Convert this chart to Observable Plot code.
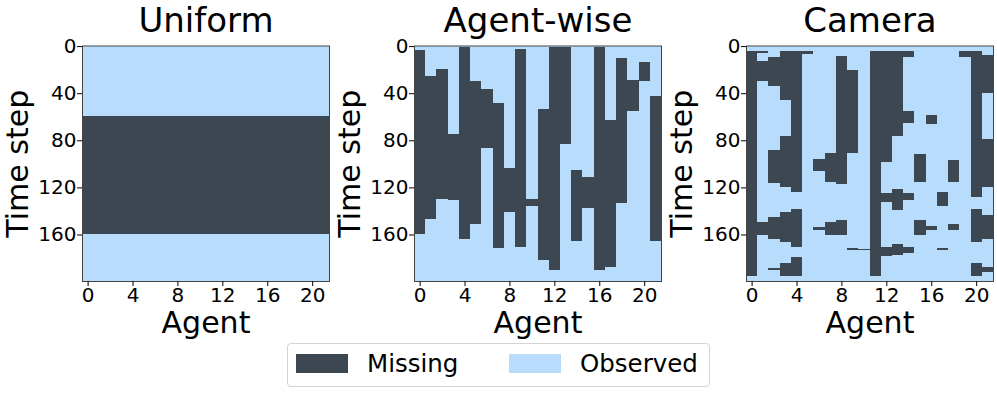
<!DOCTYPE html>
<html>
<head>
<meta charset="utf-8">
<script src="https://cdn.jsdelivr.net/npm/d3@7"></script>
<script src="https://cdn.jsdelivr.net/npm/@observablehq/plot@0.6"></script>
<style>
  html, body { margin: 0; padding: 0; background: #fff; }
  #root { position: relative; width: 997px; height: 393px; overflow: hidden; font-family: "DejaVu Sans", sans-serif; }
  .panel { position: absolute; top: 0; }
  #legend { position: absolute; left: 287px; top: 343px; width: 421px; height: 42px; border: 1px solid #d4d4d4; border-radius: 4px; background: #fff; }
  .sw { position: absolute; width: 52px; height: 19px; top: 10px; }
  .lt { position: absolute; font-size: 24.5px; line-height: 1; top: 8px; white-space: nowrap; color: #000; }
</style>
</head>
<body>
<div id="root"></div>
<script>
// ---- data ----
const agents = [0,1,2,3,4,5,6,7,8,9,10,11,12,13,14,15,16,17,18,19,20,21];
const xTicks = [0, 4, 8, 12, 16, 20];
const yTicks = [0, 40, 80, 120, 160];
const titles = ["Uniform", "Agent-wise", "Camera"];
const legendLabels = ["Missing", "Observed"];
const nSteps = 200;

// Uniform: every agent missing for the same window
const uniformGap = [60, 160];

// Agent-wise: one missing window per agent
const agentwiseStart = [4, 26, 20, 75, 1, 30, 37, 49, 104, 3, 130, 54, 1, 1, 106, 112, 1, 63, 11, 29, 14, 43];
const agentwiseEnd   = [160, 147, 130, 131, 164, 152, 87, 172, 141, 171, 136, 182, 191, 84, 166, 138, 191, 188, 134, 56, 30, 166];

// Camera: several missing windows per agent [start, end)
const cameraGaps = [
  [[5,196]],
  [[5,6],[13,30],[150,161]],
  [[10,34],[89,117],[146,164],[189,191]],
  [[5,46],[77,120],[141,167],[185,196]],
  [[5,124],[139,171],[180,196]],
  [[5,7]],
  [[96,107],[154,157]],
  [[91,116],[150,161]],
  [[9,118],[148,161]],
  [[21,91],[172,174]],
  [[173,174]],
  [[5,196]],
  [[5,99],[125,133],[171,179]],
  [[5,77],[122,140],[169,178]],
  [[5,10],[56,66],[125,131],[171,176]],
  [[92,116],[148,161]],
  [[59,67],[153,157]],
  [[124,136],[172,174]],
  [[97,116],[152,157]],
  [[5,10]],
  [[5,129],[139,167],[185,196]],
  [[8,40],[79,120],[144,164],[188,192]]
];

const missingColor = "#3d4751";
const observedColor = "#b8dcfb";

// ---- build tables ----
const uniformRows = agents.map(a => ({agent: a, start: uniformGap[0], end: uniformGap[1]}));
const agentwiseRows = agents.map((a, i) => ({agent: a, start: agentwiseStart[i], end: agentwiseEnd[i]}));
const cameraRows = agents.flatMap((a, i) => cameraGaps[i].map(([s, e]) => ({agent: a, start: s, end: e})));

const W = 333, H = 340;
function panel(title, rows) {
  return Plot.plot({
    width: W, height: H,
    marginLeft: 82, marginRight: 4, marginTop: 45.5, marginBottom: 59,
    style: {fontFamily: "'DejaVu Sans', sans-serif", fontSize: "20px", color: "#000", background: "transparent", overflow: "visible"},
    x: {domain: [-0.5, agents.length - 0.5]},
    y: {domain: [-0.5, nSteps - 0.5], reverse: true},
    marks: [
      Plot.frame({fill: observedColor, stroke: null}),
      Plot.rect(rows, {
        x1: d => d.agent - 0.5, x2: d => d.agent + 0.5,
        y1: d => d.start - 0.5, y2: d => d.end - 0.5,
        fill: missingColor, shapeRendering: "crispEdges"
      }),
      Plot.frame({stroke: "#444", strokeWidth: 1}),
      Plot.axisX({ticks: xTicks, tickSize: 5, tickPadding: 1, label: null, fontSize: 20}),
      Plot.axisY({ticks: yTicks, tickSize: 5, tickPadding: 1, label: null, fontSize: 20}),
      Plot.text([title], {text: d => d, frameAnchor: "top", dy: -14, lineAnchor: "bottom", fontSize: 34}),
      Plot.text(["Agent"], {text: d => d, frameAnchor: "bottom", dy: 51, lineAnchor: "bottom", fontSize: 30}),
      Plot.text(["Time step"], {text: d => d, frameAnchor: "left", dx: -55, rotate: -90, textAnchor: "middle", lineAnchor: "bottom", fontSize: 30})
    ]
  });
}

const root = document.getElementById("root");
const datasets = [uniformRows, agentwiseRows, cameraRows];
const lefts = [0, 332, 664];
titles.forEach((t, i) => {
  const el = panel(t, datasets[i]);
  el.classList.add("panel");
  el.style.left = lefts[i] + "px";
  root.appendChild(el);
});

// legend
const legend = document.createElement("div");
legend.id = "legend";
const legendColors = [missingColor, observedColor];
const swLeft = [8, 221], txtLeft = [79, 292];
legendLabels.forEach((lab, i) => {
  const sw = document.createElement("div");
  sw.className = "sw";
  sw.style.left = swLeft[i] + "px";
  sw.style.background = legendColors[i];
  legend.appendChild(sw);
  const tx = document.createElement("span");
  tx.className = "lt";
  tx.style.left = txtLeft[i] + "px";
  tx.textContent = lab;
  legend.appendChild(tx);
});
root.appendChild(legend);
</script>
</body>
</html>
